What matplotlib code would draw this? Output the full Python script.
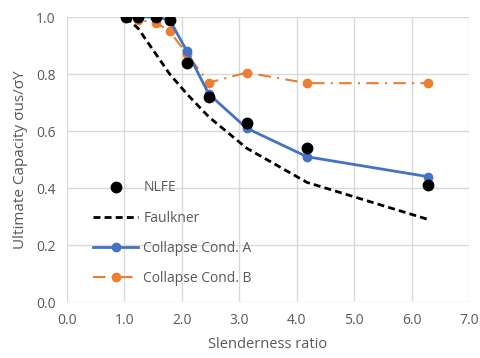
import matplotlib
matplotlib.use("Agg")
import matplotlib.pyplot as plt

plt.rcParams['font.family'] = ['Open Sans', 'DejaVu Sans']

# Slenderness ratios of the analysed plates
beta = [1.03, 1.24, 1.55, 1.79, 2.09, 2.47, 3.13, 4.18, 6.29]

nlfe = [1.00, 1.00, 1.00, 0.99, 0.84, 0.72, 0.63, 0.54, 0.41]
faulkner = [0.999, 0.96, 0.87, 0.80, 0.73, 0.65, 0.54, 0.42, 0.29]
cond_a = [1.00, 1.00, 1.00, 0.99, 0.88, 0.73, 0.61, 0.51, 0.44]
cond_b = [1.00, 0.99, 0.98, 0.95, 0.87, 0.77, 0.805, 0.768, 0.768]

x_ticks = [0, 1, 2, 3, 4, 5, 6, 7]
y_ticks = [0.0, 0.2, 0.4, 0.6, 0.8, 1.0]

txt = '#595959'
blue = '#4472C4'
orange = '#ED7D31'

fig = plt.figure(figsize=(4.81, 3.58), dpi=100)
ax = fig.add_axes([0.139, 0.156, 0.836, 0.7965])

ax.plot(beta, faulkner, color='black', ls=(0, (2.5, 1.5)), lw=2, label='Faulkner', zorder=2)
ax.plot(beta, cond_b, color=orange, ls=(0, (6, 3, 1, 3)), lw=1.5, marker='o', ms=6,
        label='Collapse Cond. B', zorder=3)
ax.plot(beta, cond_a, color=blue, lw=2, marker='o', ms=6, label='Collapse Cond. A', zorder=4)
ax.plot(beta, nlfe, color='black', ls='none', marker='o', ms=7.5, label='NLFE', zorder=5)

ax.set_xlim(0, 7)
ax.set_ylim(0, 1.0)
ax.set_xticks(x_ticks)
ax.set_yticks(y_ticks)
ax.set_xticklabels([f'{v:.1f}' for v in x_ticks])
ax.set_yticklabels([f'{v:.1f}' for v in y_ticks])
ax.grid(True, color='#d9d9d9', lw=1)
ax.set_axisbelow(True)
for s in ax.spines.values():
    s.set_visible(False)
ax.tick_params(length=0, labelsize=10, colors=txt, pad=8)
ax.set_xlabel('Slenderness ratio', fontsize=10.5, color=txt, labelpad=6)
ax.set_ylabel('Ultimate Capacity σus/σY', fontsize=11, color=txt, labelpad=6)

h, l = ax.get_legend_handles_labels()
order = [l.index(n) for n in ['NLFE', 'Faulkner', 'Collapse Cond. A', 'Collapse Cond. B']]
leg = ax.legend([h[i] for i in order], [l[i] for i in order], loc='lower left',
                bbox_to_anchor=(0.035, 0.012), frameon=False, fontsize=10,
                handlelength=3.2, labelspacing=1.1, handletextpad=0.4)
for t in leg.get_texts():
    t.set_color(txt)

fig.savefig('out.png', dpi=100)
